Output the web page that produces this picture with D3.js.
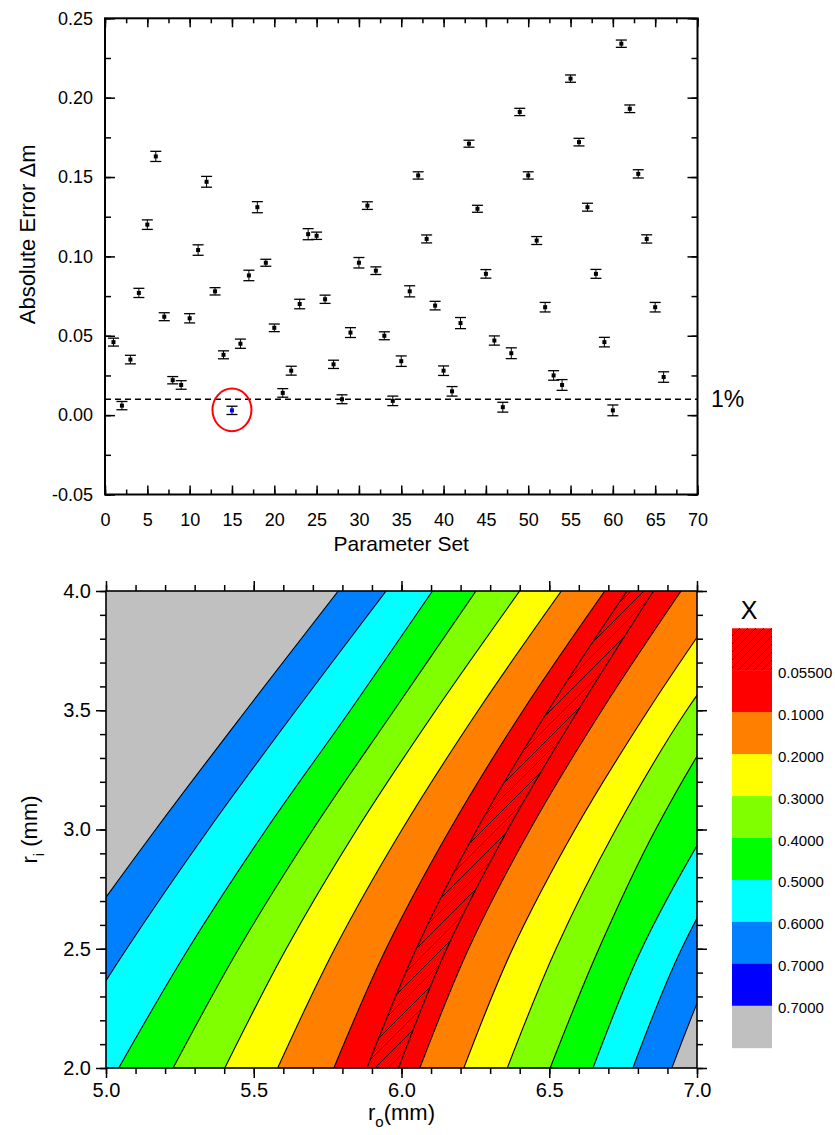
<!DOCTYPE html>
<html>
<head>
<meta charset="utf-8">
<script src="https://cdn.jsdelivr.net/npm/d3@7"></script>
<style>
body { margin: 0; background: #fff; }
text { font-family: Arial, "Liberation Sans", sans-serif; fill: #000; }
</style>
</head>
<body>
<script>
// ---- top chart: absolute error per parameter set ----
const setIds = [1,2,3,4,5,6,7,8,9,10,11,12,13,14,15,16,17,18,19,20,21,22,23,24,25,26,27,28,29,30,31,32,33,
	34,35,36,37,38,39,40,41,42,43,44,45,46,47,48,49,50,51,52,53,54,55,56,57,58,59,60,61,62,63,64,65,66];
const absError = [0.046,0.006,0.035,0.077,0.120,0.163,0.062,0.022,0.019,0.061,
	0.104,0.147,0.078,0.038,0.003,0.045,0.088,0.131,0.096,0.055,
	0.014,0.028,0.070,0.114,0.113,0.073,0.032,0.010,0.052,0.096,
	0.132,0.091,0.050,0.009,0.034,0.078,0.151,0.111,0.069,0.028,
	0.015,0.058,0.171,0.130,0.089,0.047,0.005,0.039,0.191,0.151,
	0.110,0.068,0.025,0.019,0.212,0.172,0.131,0.089,0.046,0.003,
	0.234,0.193,0.152,0.111,0.068,0.024];
const errHalf = [0.0025,0.0026,0.0027,0.0029,0.0030,0.0032,0.0025,0.0023,0.0027,0.0029,
	0.0033,0.0034,0.0023,0.0025,0.0026,0.0029,0.0033,0.0035,0.0022,0.0024,
	0.0027,0.0028,0.0030,0.0035,0.0023,0.0026,0.0026,0.0028,0.0031,0.0033,
	0.0024,0.0024,0.0025,0.0030,0.0033,0.0035,0.0023,0.0025,0.0027,0.0030,
	0.0030,0.0035,0.0022,0.0022,0.0027,0.0029,0.0031,0.0034,0.0023,0.0023,
	0.0025,0.0030,0.0030,0.0034,0.0023,0.0024,0.0025,0.0028,0.0030,0.0034,
	0.0023,0.0024,0.0026,0.0026,0.0030,0.0033];
const highlightSet = 15;
const onePercent = 0.01;
const setTicks = [0,5,10,15,20,25,30,35,40,45,50,55,60,65,70];
const errTicks = [-0.05,0.00,0.05,0.10,0.15,0.20,0.25];

// ---- bottom chart: contour boundaries of X, r_o (mm) read at each r_i (mm) ----
const riGrid = [2.0, 2.5, 3.0, 3.5, 4.0];
const roLeft070 = [4.605, 4.876, 5.168, 5.474, 5.786];
const roLeft060 = [4.815, 5.070, 5.347, 5.643, 5.948];
const roLeft050 = [5.043, 5.279, 5.542, 5.827, 6.105];
const roLeft040 = [5.227, 5.449, 5.700, 5.975, 6.252];
const roLeft030 = [5.402, 5.610, 5.849, 6.116, 6.400];
const roLeft020 = [5.581, 5.774, 6.002, 6.260, 6.541];
const roLeft010 = [5.771, 5.948, 6.164, 6.412, 6.688];
const roLeft0055 = [5.883, 6.050, 6.255, 6.497, 6.763];
const roRight0055 = [5.990, 6.153, 6.360, 6.598, 6.853];
const roRight010 = [6.062, 6.227, 6.435, 6.678, 6.946];
const roRight020 = [6.211, 6.376, 6.587, 6.835, 7.108];
const roRight030 = [6.358, 6.523, 6.725, 6.965, 7.267];
const roRight040 = [6.503, 6.668, 6.860, 7.100, 7.420];
const roRight050 = [6.648, 6.813, 7.032, 7.290, 7.580];
const roRight060 = [6.783, 6.948, 7.170, 7.430, 7.730];
const roRight070 = [6.915, 7.080, 7.300, 7.570, 7.870];
const xLevels = [0.7, 0.6, 0.5, 0.4, 0.3, 0.2, 0.1, 0.055];
const levelLeft = [roLeft070, roLeft060, roLeft050, roLeft040, roLeft030, roLeft020, roLeft010, roLeft0055];
const levelRight = [roRight070, roRight060, roRight050, roRight040, roRight030, roRight020, roRight010, roRight0055];
const insideColors = ['#0080ff', '#00ffff', '#00ff00', '#80ff00', '#ffff00', '#ff8000', '#ff0000', '#ff0000'];
const outsideColor = '#c0c0c0';
const legendLabels = ['0.05500', '0.1000', '0.2000', '0.3000', '0.4000', '0.5000', '0.6000', '0.7000', '0.7000'];
const legendColors = ['#ff0000', '#ff0000', '#ff8000', '#ffff00', '#80ff00', '#00ff00', '#00ffff', '#0080ff', '#0000ff', '#c0c0c0'];
const roTicks = [5.0, 5.5, 6.0, 6.5, 7.0];
const riTicks = [2.0, 2.5, 3.0, 3.5, 4.0];

const svg = d3.select('body').append('svg')
	.attr('width', 835)
	.attr('height', 1135);

const defs = svg.append('defs');
function hatch(id, s)
{
	defs.append('pattern')
		.attr('id', id)
		.attr('patternUnits', 'userSpaceOnUse')
		.attr('width', s)
		.attr('height', s)
		.append('path')
			.attr('d', `M0,${s} L${s},0 M-1,1 L1,-1 M${s - 1},${s + 1} L${s + 1},${s - 1}`)
			.attr('stroke', '#000')
			.attr('stroke-width', 0.9);
}
hatch('hatchPlot', 13);
hatch('hatchLegend', 8);

// ================= top chart =================
const x1 = d3.scaleLinear().domain([0, 70]).range([105, 697.5]);
const y1 = d3.scaleLinear().domain([-0.05, 0.25]).range([494.5, 18.3]);

function styleAxis(g, size)
{
	g.attr('font-size', size).attr('font-family', 'Arial, "Liberation Sans", sans-serif');
	g.select('.domain').remove();
	g.selectAll('line').attr('stroke-width', 1.5);
}

const topG = svg.append('g');
topG.append('g').attr('transform', 'translate(0,494.5)')
	.call(d3.axisBottom(x1).tickValues(d3.range(0, 70.01, 2.5)).tickSize(-5).tickFormat(''))
	.call(styleAxis, 18);
topG.append('g').attr('transform', 'translate(0,494.5)')
	.call(d3.axisBottom(x1).tickValues(setTicks).tickSize(-9).tickPadding(19).tickFormat(d3.format('d')))
	.call(styleAxis, 18);
topG.append('g').attr('transform', 'translate(0,18.3)')
	.call(d3.axisTop(x1).tickValues(d3.range(0, 70.01, 2.5)).tickSize(-5).tickFormat(''))
	.call(styleAxis, 18);
topG.append('g').attr('transform', 'translate(0,18.3)')
	.call(d3.axisTop(x1).tickValues(setTicks).tickSize(-9).tickFormat(''))
	.call(styleAxis, 18);
topG.append('g').attr('transform', 'translate(105,0)')
	.call(d3.axisLeft(y1).tickValues(d3.range(-0.05, 0.2501, 0.025)).tickSize(-6).tickFormat(''))
	.call(styleAxis, 18);
topG.append('g').attr('transform', 'translate(105,0)')
	.call(d3.axisLeft(y1).tickValues(errTicks).tickSize(-10).tickPadding(12).tickFormat(d => d.toFixed(2)))
	.call(styleAxis, 18);
topG.append('g').attr('transform', 'translate(697.5,0)')
	.call(d3.axisRight(y1).tickValues(d3.range(-0.05, 0.2501, 0.025)).tickSize(-6).tickFormat(''))
	.call(styleAxis, 18);
topG.append('g').attr('transform', 'translate(697.5,0)')
	.call(d3.axisRight(y1).tickValues(errTicks).tickSize(-10).tickFormat(''))
	.call(styleAxis, 18);

topG.append('rect')
	.attr('x', x1(0)).attr('y', y1(0.25))
	.attr('width', x1(70) - x1(0)).attr('height', y1(-0.05) - y1(0.25))
	.attr('fill', 'none').attr('stroke', '#000').attr('stroke-width', 2);

topG.append('line')
	.attr('x1', x1(0)).attr('x2', x1(70))
	.attr('y1', y1(onePercent)).attr('y2', y1(onePercent))
	.attr('stroke', '#000').attr('stroke-width', 1.5).attr('stroke-dasharray', '6,4');

const pts = setIds.map((s, i) => ({ s: s, v: absError[i], e: errHalf[i] }));
const bars = topG.append('g').selectAll('g').data(pts).enter().append('g');
bars.append('line')
	.attr('x1', d => x1(d.s)).attr('x2', d => x1(d.s))
	.attr('y1', d => y1(d.v - d.e)).attr('y2', d => y1(d.v + d.e))
	.attr('stroke', '#000').attr('stroke-width', 1);
bars.selectAll('.cap').data(d => [d.v - d.e, d.v + d.e].map(v => ({ s: d.s, v: v })))
	.enter().append('line')
	.attr('x1', d => x1(d.s) - 5.5).attr('x2', d => x1(d.s) + 5.5)
	.attr('y1', d => y1(d.v)).attr('y2', d => y1(d.v))
	.attr('stroke', '#000').attr('stroke-width', 1.3);
bars.append('rect')
	.attr('x', d => x1(d.s) - 2).attr('y', d => y1(d.v) - 2)
	.attr('width', 4).attr('height', 4)
	.attr('fill', d => d.s === highlightSet ? '#0000ff' : '#000');

const hl = pts.find(d => d.s === highlightSet);
topG.append('ellipse')
	.attr('cx', x1(hl.s)).attr('cy', y1(hl.v) - 0.5)
	.attr('rx', 19.5).attr('ry', 21.3)
	.attr('fill', 'none').attr('stroke', '#ff0000').attr('stroke-width', 2);

topG.append('text')
	.attr('x', 711).attr('y', y1(onePercent) + 8)
	.attr('font-size', 23)
	.text('1%');
topG.append('text')
	.attr('x', (x1(0) + x1(70)) / 2).attr('y', 551)
	.attr('text-anchor', 'middle').attr('font-size', 21)
	.text('Parameter Set');
topG.append('text')
	.attr('transform', `translate(35,${(y1(0.25) + y1(-0.05)) / 2 - 22}) rotate(-90)`)
	.attr('text-anchor', 'middle').attr('font-size', 22)
	.text('Absolute Error \u0394m');

// ================= bottom chart =================
const x2 = d3.scaleLinear().domain([5, 7]).range([106, 697]);
const y2 = d3.scaleLinear().domain([2, 4]).range([1068, 591]);

defs.append('clipPath').attr('id', 'plotClip')
	.append('rect')
		.attr('x', x2(5)).attr('y', y2(4))
		.attr('width', x2(7) - x2(5)).attr('height', y2(2) - y2(4));

const lineRi = d3.line()
	.x(d => x2(d[0]))
	.y(d => y2(d[1]))
	.curve(d3.curveCatmullRom.alpha(0.5));

function curvePts(ro) { return riGrid.map((r, i) => [ro[i], r]); }
function insidePath(left, right)
{
	const back = curvePts(right).reverse();
	return lineRi(curvePts(left)) + 'L' + lineRi(back).slice(1) + 'Z';
}

const map = svg.append('g').attr('clip-path', 'url(#plotClip)');
map.append('rect')
	.attr('x', x2(5)).attr('y', y2(4))
	.attr('width', x2(7) - x2(5)).attr('height', y2(2) - y2(4))
	.attr('fill', outsideColor);
map.selectAll('path.band').data(xLevels).enter().append('path')
	.attr('class', 'band')
	.attr('d', (d, i) => insidePath(levelLeft[i], levelRight[i]))
	.attr('fill', (d, i) => insideColors[i]);
map.append('path')
	.attr('d', insidePath(roLeft0055, roRight0055))
	.attr('fill', 'url(#hatchPlot)');
map.selectAll('path.edge').data(levelLeft.concat(levelRight)).enter().append('path')
	.attr('class', 'edge')
	.attr('d', d => lineRi(curvePts(d)))
	.attr('fill', 'none').attr('stroke', '#000').attr('stroke-width', 1.1);

const bot = svg.append('g');
bot.append('g').attr('transform', 'translate(0,1068)')
	.call(d3.axisBottom(x2).tickValues(x2.ticks(20)).tickSize(6).tickFormat(''))
	.call(styleAxis, 20);
bot.append('g').attr('transform', 'translate(0,1068)')
	.call(d3.axisBottom(x2).tickValues(roTicks).tickSize(10).tickPadding(5).tickFormat(d3.format('.1f')))
	.call(styleAxis, 20);
bot.append('g').attr('transform', 'translate(0,591)')
	.call(d3.axisTop(x2).tickValues(x2.ticks(20)).tickSize(6).tickFormat(''))
	.call(styleAxis, 20);
bot.append('g').attr('transform', 'translate(0,591)')
	.call(d3.axisTop(x2).tickValues(roTicks).tickSize(10).tickFormat(''))
	.call(styleAxis, 20);
bot.append('g').attr('transform', 'translate(106,0)')
	.call(d3.axisLeft(y2).tickValues(y2.ticks(20)).tickSize(6).tickFormat(''))
	.call(styleAxis, 20);
bot.append('g').attr('transform', 'translate(106,0)')
	.call(d3.axisLeft(y2).tickValues(riTicks).tickSize(10).tickPadding(5).tickFormat(d3.format('.1f')))
	.call(styleAxis, 20);
bot.append('g').attr('transform', 'translate(697,0)')
	.call(d3.axisRight(y2).tickValues(y2.ticks(20)).tickSize(6).tickFormat(''))
	.call(styleAxis, 20);
bot.append('g').attr('transform', 'translate(697,0)')
	.call(d3.axisRight(y2).tickValues(riTicks).tickSize(10).tickFormat(''))
	.call(styleAxis, 20);

bot.append('rect')
	.attr('x', x2(5)).attr('y', y2(4))
	.attr('width', x2(7) - x2(5)).attr('height', y2(2) - y2(4))
	.attr('fill', 'none').attr('stroke', '#000').attr('stroke-width', 1.6);

const xt = bot.append('text')
	.attr('x', x2(6)).attr('y', 1120)
	.attr('text-anchor', 'middle').attr('font-size', 22);
xt.append('tspan').text('r');
xt.append('tspan').attr('dy', 7).attr('font-size', 15).text('o');
xt.append('tspan').attr('dy', -7).text('(mm)');

const yt = bot.append('text')
	.attr('transform', `translate(37,${y2(3)}) rotate(-90)`)
	.attr('text-anchor', 'middle').attr('font-size', 22);
yt.append('tspan').text('r');
yt.append('tspan').attr('dy', 7).attr('font-size', 15).text('i');
yt.append('tspan').attr('dy', -7).text(' (mm)');

// legend
const lg = svg.append('g');
const ly = d3.scaleBand().domain(d3.range(legendColors.length)).range([628.3, 1047.7]);
lg.selectAll('rect.box').data(legendColors).enter().append('rect')
	.attr('class', 'box')
	.attr('x', 732).attr('y', (d, i) => ly(i))
	.attr('width', 40).attr('height', ly.bandwidth() + 0.5)
	.attr('fill', d => d);
lg.append('rect')
	.attr('x', 732).attr('y', ly(0))
	.attr('width', 40).attr('height', ly.bandwidth())
	.attr('fill', 'url(#hatchLegend)');
lg.selectAll('text.lab').data(legendLabels).enter().append('text')
	.attr('class', 'lab')
	.attr('x', 778).attr('y', (d, i) => ly(i + 1) + 2)
	.attr('dominant-baseline', 'central')
	.attr('font-size', 15)
	.text(d => d);
lg.append('text')
	.attr('x', 749).attr('y', 619)
	.attr('text-anchor', 'middle').attr('font-size', 25)
	.text('X');
</script>
</body>
</html>
